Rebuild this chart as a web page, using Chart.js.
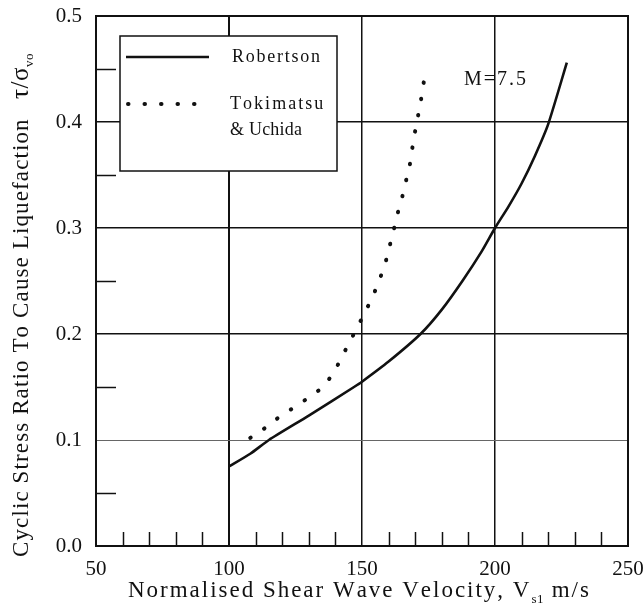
<!DOCTYPE html>
<html>
<head>
<meta charset="utf-8">
<script src="https://cdn.jsdelivr.net/npm/chart.js@4/dist/chart.umd.min.js"></script>
<style>
  html, body { margin: 0; padding: 0; background: #fff; }
  canvas { display: block; }
</style>
</head>
<body>
<canvas id="chart" width="644" height="612"></canvas>
<script>
// Robertson curve (solid)
const robertsonV   = [100, 108, 115, 130, 147, 150, 160, 172, 180, 188, 195, 200, 205, 210, 215, 220, 227];
const robertsonCSR = [0.075, 0.087, 0.1, 0.123, 0.150, 0.155, 0.174, 0.2, 0.223, 0.251, 0.278, 0.3, 0.32, 0.342, 0.368, 0.398, 0.456];

// Tokimatsu & Uchida curve (dotted)
const tokimatsuV   = [108, 114, 119, 124, 130, 135, 139, 142, 145, 148, 151, 154, 156.4, 158.6, 160.2, 161.7, 163.3, 165, 166.5, 168, 169.5, 170.7, 172, 173, 174];
const tokimatsuCSR = [0.102, 0.112, 0.122, 0.130, 0.140, 0.149, 0.162, 0.176, 0.191, 0.205, 0.220, 0.235, 0.250, 0.265, 0.281, 0.296, 0.313, 0.328, 0.344, 0.36, 0.385, 0.401, 0.418, 0.434, 0.450];

const xTicks = [50, 100, 150, 200, 250];
const yTicks = [0.0, 0.1, 0.2, 0.3, 0.4, 0.5];
const xMinor = [60, 70, 80, 90, 110, 120, 130, 140, 160, 170, 180, 190, 210, 220, 230, 240];
const yMinor = [0.05, 0.15, 0.25, 0.35, 0.45];

const seriesNames = ['Robertson', 'Tokimatsu', '& Uchida'];
const magnitudeLabel = 'M=7.5';

const serif = '"Liberation Serif", "DejaVu Serif", serif';
const ink = '#111';

function toPoints(xs, ys) {
  return xs.map((x, i) => ({ x: x, y: ys[i] }));
}

// draws text char by char; spaced runs share the gap that makes the whole fill `width`
function spacedRuns(ctx, runs, x, y, width) {
  let natural = 0, count = 0;
  runs.forEach(r => {
    ctx.font = r.font;
    natural += ctx.measureText(r.text).width;
    if (r.tight) natural += r.text.length * 0.5;
    else count += r.text.length;
  });
  const gap = count > 1 ? (width - natural) / (count - 1) : 0;
  let cx = x;
  runs.forEach(r => {
    ctx.font = r.font;
    for (const ch of r.text) {
      ctx.fillText(ch, cx, y + (r.dy || 0));
      cx += ctx.measureText(ch).width + (r.tight ? 0.5 : gap);
    }
  });
}

const decorations = {
  id: 'decorations',
  afterDraw(chart) {
    const ctx = chart.ctx;
    const a = chart.chartArea;
    const xs = chart.scales.x, ys = chart.scales.y;
    ctx.save();
    ctx.strokeStyle = ink;
    ctx.fillStyle = ink;

    // minor ticks, pointing inward
    ctx.lineWidth = 1.5;
    xMinor.forEach(v => {
      const px = Math.round(xs.getPixelForValue(v)) + 0.5;
      ctx.beginPath(); ctx.moveTo(px, a.bottom); ctx.lineTo(px, a.bottom - 14); ctx.stroke();
    });
    yMinor.forEach(v => {
      const py = Math.round(ys.getPixelForValue(v)) + 0.5;
      ctx.beginPath(); ctx.moveTo(a.left, py); ctx.lineTo(a.left + 20, py); ctx.stroke();
    });

    // frame
    ctx.lineWidth = 2;
    ctx.strokeRect(a.left, a.top, a.right - a.left, a.bottom - a.top);

    // legend box
    const lx = a.left + 24, ly = a.top + 20, lw = 217, lh = 135;
    ctx.fillStyle = '#fff';
    ctx.fillRect(lx, ly, lw, lh);
    ctx.lineWidth = 1.5;
    ctx.strokeRect(lx, ly, lw, lh);

    const ds = chart.data.datasets;
    ctx.lineWidth = ds[0].borderWidth;
    ctx.beginPath(); ctx.moveTo(lx + 6, ly + 21); ctx.lineTo(lx + 89, ly + 21); ctx.stroke();

    ctx.lineWidth = ds[1].borderWidth;
    ctx.lineCap = 'round';
    ctx.setLineDash(ds[1].borderDash);
    ctx.beginPath(); ctx.moveTo(lx + 8, ly + 68); ctx.lineTo(lx + 80, ly + 68); ctx.stroke();
    ctx.setLineDash([]);
    ctx.lineCap = 'butt';

    ctx.fillStyle = ink;
    ctx.textBaseline = 'middle';
    const lf = '18px ' + serif;
    spacedRuns(ctx, [{ text: seriesNames[0], font: lf }], lx + 112, ly + 21, 88);
    spacedRuns(ctx, [{ text: seriesNames[1], font: lf }], lx + 110, ly + 68, 92);
    spacedRuns(ctx, [{ text: seriesNames[2], font: lf }], lx + 110, ly + 94, 72);

    // magnitude note
    const mx = xs.getPixelForValue(200), my = ys.getPixelForValue(0.44);
    spacedRuns(ctx, [{ text: magnitudeLabel, font: '20px ' + serif }], mx - 31, my, 62);

    // x axis title
    ctx.textBaseline = 'alphabetic';
    spacedRuns(ctx, [
      { text: 'Normalised Shear Wave Velocity, V', font: '23px ' + serif },
      { text: 's1', font: '13px ' + serif, dy: 6, tight: true },
      { text: ' m/s', font: '23px ' + serif }
    ], 128, 597, 455);

    // y axis title (rotated)
    ctx.translate(28, 557);
    ctx.rotate(-Math.PI / 2);
    spacedRuns(ctx, [{ text: 'Cyclic Stress Ratio To Cause Liquefaction', font: '23px ' + serif }], 0, 0, 436);
    spacedRuns(ctx, [
      { text: '\u03C4/\u03C3', font: '25px ' + serif, tight: true },
      { text: 'vo', font: '13px ' + serif, dy: 5, tight: true }
    ], 458, 0, 0);
    ctx.restore();
  }
};

new Chart(document.getElementById('chart'), {
  type: 'scatter',
  data: {
    datasets: [{
      label: seriesNames[0],
      data: toPoints(robertsonV, robertsonCSR),
      showLine: true,
      borderColor: ink,
      borderWidth: 2.6,
      pointRadius: 0,
      tension: 0.2
    }, {
      label: seriesNames[1] + ' ' + seriesNames[2],
      data: toPoints(tokimatsuV, tokimatsuCSR),
      showLine: true,
      borderColor: ink,
      borderWidth: 4,
      borderDash: [0.5, 16],
      borderCapStyle: 'round',
      pointRadius: 0,
      tension: 0
    }]
  },
  plugins: [decorations],
  options: {
    responsive: false,
    animation: false,
    layout: { padding: { top: 16, right: 16, left: 0, bottom: 0 } },
    plugins: { legend: { display: false }, tooltip: { enabled: false } },
    scales: {
      x: {
        type: 'linear',
        min: 50, max: 250,
        afterBuildTicks: s => { s.ticks = xTicks.map(v => ({ value: v })); },
        afterFit: s => { s.height = 66; s.paddingLeft = 0; s.paddingRight = 0; },
        ticks: { color: ink, font: { family: serif, size: 21 }, padding: 11, maxRotation: 0 },
        grid: {
          drawTicks: false,
          color: ink,
          lineWidth: c => (c.tick && c.tick.value === 100 ? 2 : 1.5)
        },
        border: { display: true, color: ink, width: 2 }
      },
      y: {
        type: 'linear',
        min: 0, max: 0.5,
        afterBuildTicks: s => { s.ticks = yTicks.map(v => ({ value: v })); },
        afterFit: s => { s.width = 96; s.paddingTop = 0; s.paddingBottom = 0; },
        ticks: { color: ink, font: { family: serif, size: 21 }, padding: 14, callback: v => v.toFixed(1) },
        grid: {
          drawTicks: false,
          color: c => (c.tick && Math.abs(c.tick.value - 0.1) < 1e-6 ? '#666' : ink),
          lineWidth: c => (c.tick && Math.abs(c.tick.value - 0.1) < 1e-6 ? 1 : 1.5)
        },
        border: { display: true, color: ink, width: 2 }
      }
    }
  }
});
</script>
</body>
</html>
